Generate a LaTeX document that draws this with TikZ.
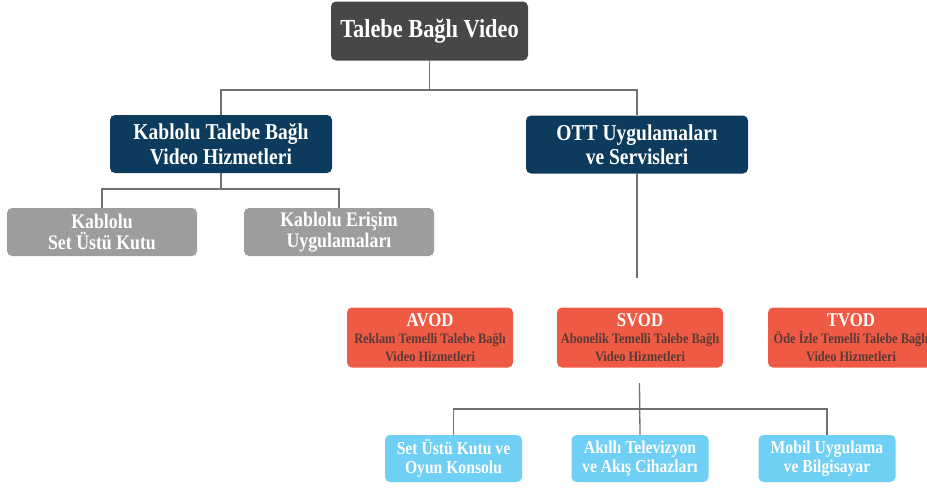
\documentclass[tikz,border=0pt]{standalone}
\usepackage{fontspec}
\setmainfont{Liberation Serif}[FakeStretch=0.86]
\definecolor{topgray}{HTML}{474747}
\definecolor{navy}{HTML}{0C3B5D}
\definecolor{midgray}{HTML}{9D9D9D}
\definecolor{orng}{HTML}{EF5A45}
\definecolor{subtxt}{HTML}{5A3A35}
\definecolor{skyblue}{HTML}{6FCFF5}
\definecolor{linegray}{HTML}{707070}
\tikzset{
  boxbase/.style={rectangle, rounded corners=5pt, inner sep=0pt, align=center, text=white, font=\bfseries},
  topbox/.style={boxbase, fill=topgray, minimum width=197pt, minimum height=59pt, font=\bfseries\fontsize{26}{28}\selectfont},
  navybox/.style={boxbase, fill=navy, minimum width=222pt, minimum height=58pt, font=\bfseries\fontsize{22.7}{24.5}\selectfont},
  graybox/.style={boxbase, fill=midgray, minimum width=190pt, minimum height=48pt, font=\bfseries\fontsize{20.7}{21}\selectfont},
  orangebox/.style={boxbase, fill=orng, minimum width=166pt, minimum height=60pt, font=\bfseries\fontsize{19.5}{17.5}\selectfont},
  bluebox/.style={boxbase, fill=skyblue, minimum width=137pt, minimum height=47pt, font=\bfseries\fontsize{18.2}{19.5}\selectfont},
  conn/.style={draw=linegray, line width=1.3pt}
}
\newcommand{\subl}[1]{{\color{subtxt}\fontsize{14.4}{17}\selectfont #1}}
\begin{document}
\begin{tikzpicture}[x=1pt,y=-1pt]
\useasboundingbox (0,0) rectangle (927,488);
\node[topbox] (top) at (429.5,31) {Talebe Bağlı Video};
\node[navybox] (kt) at (221,144) {Kablolu Talebe Bağlı\\Video Hizmetleri};
\node[navybox] (ott) at (637,144.5) {OTT Uygulamaları\\ve Servisleri};
\node[graybox] (g1) at (102,232) {Kablolu\\Set Üstü Kutu};
\node[graybox] (g2) at (339,232) {Kablolu Erişim\\Uygulamaları};
\node[orangebox] (avod) at (430,337.5) {AVOD\\\subl{Reklam Temelli Talebe Bağlı}\\\subl{Video Hizmetleri}};
\node[orangebox] (svod) at (640,337.5) {SVOD\\\subl{Abonelik Temelli Talebe Bağlı}\\\subl{Video Hizmetleri}};
\node[orangebox] (tvod) at (851,337.5) {TVOD\\\subl{Öde İzle Temelli Talebe Bağlı}\\\subl{Video Hizmetleri}};
\node[bluebox] (b1) at (453.5,458.5) {Set Üstü Kutu ve\\Oyun Konsolu};
\node[bluebox] (b2) at (640,458.5) {Akıllı Televizyon\\ve Akış Cihazları};
\node[bluebox] (b3) at (827,458.5) {Mobil Uygulama\\ve Bilgisayar};
\coordinate (j1) at (429.5,90);
\coordinate (j2) at (221,189);
\coordinate (ottend) at (637,278);
\coordinate (s1) at (639.5,383);
\coordinate (j3) at (639.5,409);
\draw[conn] (top) -- (j1);
\draw[conn] (kt.north) |- (j1) -| (ott.north);
\draw[conn] (kt) -- (j2);
\draw[conn] (g1.north) |- (j2) -| (g2.north);
\draw[conn] (ott.south) -- (ottend);
\draw[conn] (s1) -- (b2.north);
\draw[conn] (b1.north) |- (j3) -| (b3.north);
\end{tikzpicture}
\end{document}
